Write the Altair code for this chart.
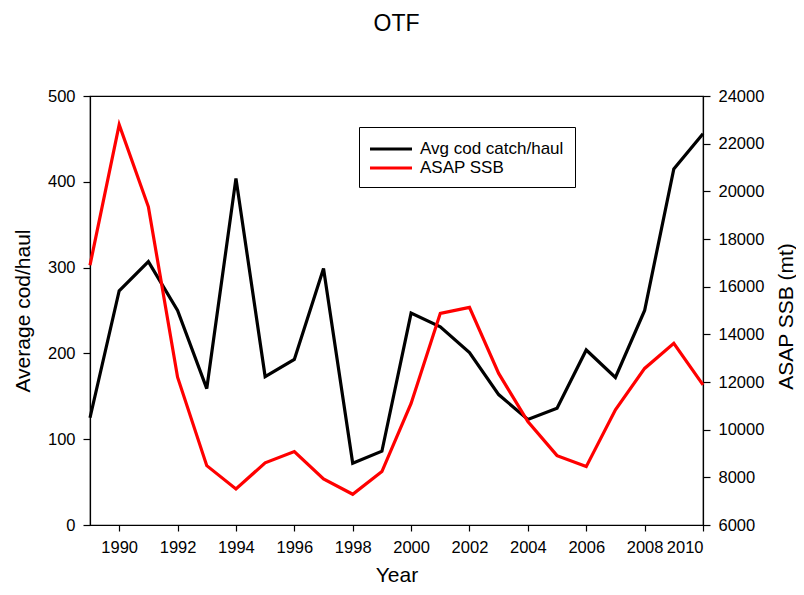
import altair as alt
import pandas as pd

years = list(range(1989, 2011))
avg_cod_catch = [125, 273, 307, 250, 159, 404, 173, 193, 299, 72, 86,
                 247, 231, 201, 152, 123, 136, 204, 172, 250, 415, 456]
asap_ssb = [16900, 22800, 19350, 12200, 8490, 7510, 8610, 9080, 7930, 7290, 8240,
            11100, 14880, 15130, 12360, 10340, 8910, 8450, 10830, 12570, 13620, 11880]

series_names = ["Avg cod catch/haul", "ASAP SSB"]
series_colors = ["black", "red"]
x_ticks = list(range(1990, 2011, 2))
left_ticks = [0, 100, 200, 300, 400, 500]
right_ticks = list(range(6000, 24001, 2000))

df = pd.DataFrame({"Year": years, "catch": avg_cod_catch, "ssb": asap_ssb})

FONT = "Liberation Sans"

x_enc = alt.X("Year:Q",
              scale=alt.Scale(domain=[1989, 2010], nice=False, zero=False),
              axis=alt.Axis(values=x_ticks, format="d", title="Year",
                            titleY=56, titleBaseline="alphabetic",
                            tickSize=6, labelPadding=8))

color_enc = alt.Color("series:N",
                      scale=alt.Scale(domain=series_names, range=series_colors),
                      legend=alt.Legend(
                          title=None, orient="none", legendX=269, legendY=31,
                          direction="vertical",
                          symbolType="M-1.158,0L3.263,0",
                          symbolSize=361, symbolStrokeWidth=3,
                          labelOffset=28, padding=11, rowPadding=0,
                          labelFontSize=17, labelFont=FONT, labelColor="black",
                          strokeColor="black", fillColor="white",
                          labelLimit=400))

catch_line = alt.Chart(df).transform_calculate(
    series="'Avg cod catch/haul'"
).mark_line(strokeWidth=3.2, strokeJoin="miter").encode(
    x=x_enc,
    y=alt.Y("catch:Q",
            scale=alt.Scale(domain=[0, 500], nice=False),
            axis=alt.Axis(values=left_ticks, title="Average cod/haul",
                          titleAngle=270, titleX=-61, titleY=214.5,
                          titleBaseline="alphabetic", titleAlign="center",
                          tickSize=7, labelPadding=8)),
    color=color_enc,
)

ssb_line = alt.Chart(df).transform_calculate(
    series="'ASAP SSB'"
).mark_line(strokeWidth=3.2, strokeJoin="miter").encode(
    x=x_enc,
    y=alt.Y("ssb:Q",
            scale=alt.Scale(domain=[6000, 24000], nice=False, zero=False),
            axis=alt.Axis(values=right_ticks, format="d", orient="right",
                          title="ASAP SSB (mt)",
                          titleAngle=270, titleX=89, titleY=220,
                          titleBaseline="alphabetic", titleAlign="center",
                          tickSize=7, labelPadding=8)),
    color=color_enc,
)

chart = alt.layer(catch_line, ssb_line).resolve_scale(
    y="independent"
).properties(
    width=613, height=429,
    background="white",
    autosize=alt.AutoSizeParams(type="none"),
    padding={"left": 82, "top": 88, "right": 93, "bottom": 62},
    title=alt.TitleParams("OTF", fontSize=23, font=FONT, fontWeight="normal",
                          anchor="middle", frame="group", offset=34,
                          baseline="alphabetic", color="black"),
).configure_view(
    stroke="black", strokeWidth=1.2
).configure_axis(
    grid=False, domainColor="black", domainWidth=1.2, tickColor="black",
    tickWidth=1.2, labelColor="black", labelFont=FONT, labelFontSize=16.5,
    titleColor="black", titleFont=FONT, titleFontSize=21,
    titleFontWeight="normal",
)

chart.save("out.html", embed_options={"renderer": "svg", "actions": False})
